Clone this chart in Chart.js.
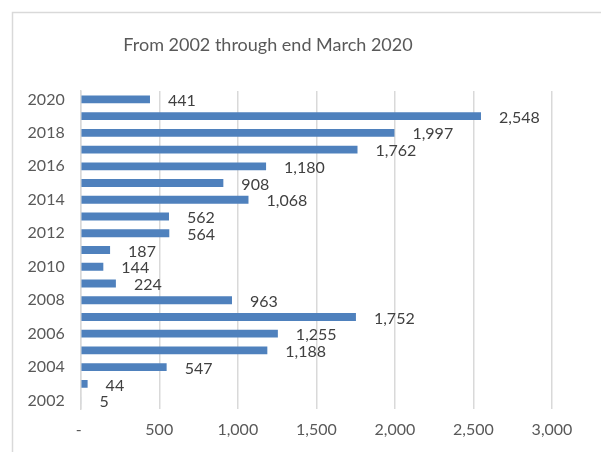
<!DOCTYPE html>
<html>
<head>
<meta charset="utf-8">
<script src="https://cdn.jsdelivr.net/npm/chart.js@4"></script>
<style>
  html, body { margin: 0; padding: 0; background: #fff; overflow: hidden; }
  canvas { display: block; }
</style>
</head>
<body>
<canvas id="c" width="601" height="452"></canvas>
<script>
const years = [2002, 2003, 2004, 2005, 2006, 2007, 2008, 2009, 2010, 2011,
               2012, 2013, 2014, 2015, 2016, 2017, 2018, 2019, 2020];
const counts = [5, 44, 547, 1188, 1255, 1752, 963, 224, 144, 187,
                564, 562, 1068, 908, 1180, 1762, 1997, 2548, 441];
const xTicks = [0, 500, 1000, 1500, 2000, 2500, 3000];
const titleText = 'From 2002 through end March 2020';

const FONT = 'Lato, "Noto Sans", sans-serif';
const fmt = v => v === 0 ? '- ' : v.toLocaleString('en-US');

const frame = {
  id: 'frame',
  beforeDraw(chart) {
    const ctx = chart.ctx;
    ctx.save();
    ctx.fillStyle = '#fff';
    ctx.fillRect(0, 0, chart.width, chart.height);
    ctx.strokeStyle = '#d9d9d9';
    ctx.lineWidth = 1.5;
    ctx.strokeRect(12.5, 12.5, chart.width + 20, chart.height + 20);
    ctx.font = '18px ' + FONT;
    ctx.fillStyle = '#595959';
    ctx.textAlign = 'center';
    ctx.textBaseline = 'middle';
    ctx.fillText(titleText, 268, 45);
    ctx.restore();
  }
};

const valueLabels = {
  id: 'valueLabels',
  afterDatasetsDraw(chart) {
    const ctx = chart.ctx;
    const meta = chart.getDatasetMeta(0);
    ctx.save();
    ctx.font = '16px ' + FONT;
    ctx.fillStyle = '#404040';
    ctx.textAlign = 'left';
    ctx.textBaseline = 'middle';
    meta.data.forEach((bar, i) => {
      ctx.fillText(fmt(counts[i]), bar.x + 18, bar.y + 1.5);
    });
    ctx.restore();
  }
};

new Chart(document.getElementById('c'), {
  type: 'bar',
  data: {
    labels: years.map(String),
    datasets: [{
      data: counts,
      backgroundColor: '#4f81bd',
      borderWidth: 0,
      barPercentage: 0.47,
      categoryPercentage: 1
    }]
  },
  options: {
    indexAxis: 'y',
    responsive: false,
    animation: false,
    devicePixelRatio: 1,
    layout: { padding: { left: 0, right: 49, top: 91, bottom: 0 } },
    plugins: {
      legend: { display: false },
      tooltip: { enabled: false },
      title: { display: false }
    },
    scales: {
      x: {
        min: 0,
        max: 3000,
        afterBuildTicks: s => { s.ticks = xTicks.map(v => ({ value: v })); },
        afterFit: s => { s.height = 43; },
        grid: { color: '#d9d9d9', lineWidth: 1.5, drawTicks: false },
        border: { display: false },
        ticks: {
          color: '#595959',
          font: { family: FONT, size: 16 },
          padding: 11,
          callback: v => fmt(v)
        }
      },
      y: {
        reverse: true,
        afterFit: s => { s.width = 80.7; },
        grid: { display: false, drawTicks: false },
        border: { display: true, color: '#d9d9d9', width: 1.5 },
        ticks: {
          autoSkip: false,
          color: '#595959',
          font: { family: FONT, size: 16 },
          padding: 16,
          callback: function (v, i) { return years[i] % 2 === 0 ? String(years[i]) : ''; }
        }
      }
    }
  },
  plugins: [frame, valueLabels]
});
</script>
</body>
</html>
